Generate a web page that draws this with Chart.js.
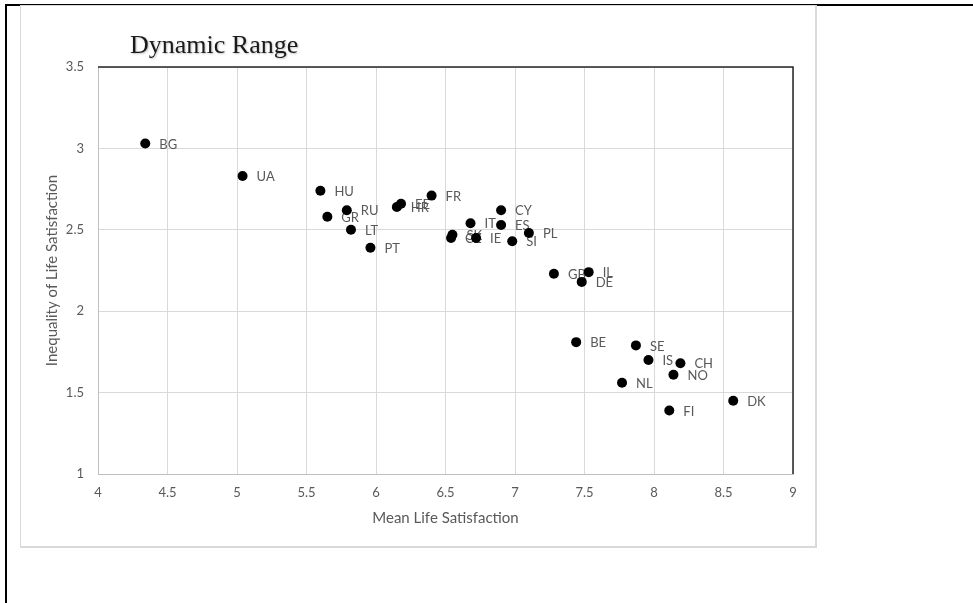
<!DOCTYPE html>
<html>
<head>
<meta charset="utf-8">
<script src="https://cdn.jsdelivr.net/npm/chart.js@4.4.1/dist/chart.umd.min.js"></script>
<style>
  html, body { margin: 0; padding: 0; background: #fff; }
  #outer { position: absolute; left: 5px; top: 4px; right: 0; bottom: 0; border-top: 2px solid #000; border-left: 2px solid #000; }
  #box { position: absolute; left: 20px; top: 5px; width: 794px; height: 540px; border: 1px solid #d9d9d9; border-right-width: 2px; border-bottom-width: 2px; background: #fff; }
  #box canvas { display: block; }
</style>
</head>
<body>
<div id="outer"></div>
<div id="box"><canvas id="myChart" width="794" height="540"></canvas></div>
<script>
// country codes and values
var countries = ["BG","UA","HU","RU","GR","LT","PT","HR","EE","FR","CY","IT","ES","SK","CZ","IE","SI","PL","GB","IL","DE","BE","SE","IS","CH","NO","NL","FI","DK"];
var meanLife = [4.34,5.04,5.60,5.79,5.65,5.82,5.96,6.15,6.18,6.40,6.90,6.68,6.90,6.55,6.54,6.72,6.98,7.10,7.28,7.53,7.48,7.44,7.87,7.96,8.19,8.14,7.77,8.11,8.57];
var inequality = [3.03,2.83,2.74,2.62,2.58,2.50,2.39,2.64,2.66,2.71,2.62,2.54,2.53,2.47,2.45,2.45,2.43,2.48,2.23,2.24,2.18,1.81,1.79,1.70,1.68,1.61,1.56,1.39,1.45];
var xTicks = [4,4.5,5,5.5,6,6.5,7,7.5,8,8.5,9];
var yTicks = [1,1.5,2,2.5,3,3.5];

var points = [];
for (var i = 0; i < countries.length; i++) {
  points.push({x: meanLife[i], y: inequality[i]});
}

var grey = "#595959";

// country labels next to each point (drawn before points)
var pointLabels = {
  id: 'pointLabels',
  beforeDatasetsDraw: function(chart) {
    var ctx = chart.ctx;
    var meta = chart.getDatasetMeta(0);
    ctx.save();
    ctx.font = "13px Lato";
    ctx.fillStyle = grey;
    ctx.textAlign = "left";
    ctx.textBaseline = "middle";
    meta.data.forEach(function(pt, i) {
      ctx.fillText(countries[i], pt.x + 14, pt.y + 1);
    });
    ctx.restore();
  }
};

// dark frame on top and right of plot area
var plotFrame = {
  id: 'plotFrame',
  beforeDatasetsDraw: function(chart) {
    var a = chart.chartArea, ctx = chart.ctx;
    ctx.save();
    ctx.strokeStyle = "#262626";
    ctx.lineWidth = 1.5;
    ctx.beginPath();
    ctx.moveTo(a.left, a.top);
    ctx.lineTo(a.right, a.top);
    ctx.lineTo(a.right, a.bottom);
    ctx.stroke();
    ctx.restore();
  }
};

var chartTitle = {
  id: 'chartTitle',
  afterDraw: function(chart) {
    var ctx = chart.ctx;
    ctx.save();
    ctx.font = "26px 'Liberation Serif'";
    ctx.fillStyle = "#1a1a1a";
    ctx.textAlign = "left";
    ctx.textBaseline = "alphabetic";
    ctx.shadowColor = "rgba(0,0,0,0.25)";
    ctx.shadowOffsetX = 1;
    ctx.shadowOffsetY = 1;
    ctx.shadowBlur = 2;
    ctx.fillText("Dynamic Range", chart.chartArea.left + 32, 47);
    ctx.restore();
  }
};

function plainTick(v) { return String(v); }

var ctx = document.getElementById("myChart");

var myChart = new Chart(ctx, {
  type: 'scatter',
  data: {
    datasets: [{
      label: "Countries",
      data: points,
      backgroundColor: "#000",
      borderColor: "#000",
      borderWidth: 0,
      pointRadius: 5,
      pointHoverRadius: 5
    }]
  },
  options: {
    responsive: false,
    animation: false,
    events: [],
    layout: { padding: { left: 0, right: 22, top: 61, bottom: 0 } },
    plugins: {
      legend: { display: false },
      tooltip: { enabled: false }
    },
    scales: {
      x: {
        type: 'linear',
        min: 4,
        max: 9,
        afterBuildTicks: function(s) { s.ticks = xTicks.map(function(v) { return {value: v}; }); },
        afterFit: function(s) { s.height = 72; },
        grid: { color: "#d9d9d9", lineWidth: 1, drawTicks: false },
        border: { color: "#bfbfbf", width: 1 },
        ticks: { color: grey, font: { family: "Lato", size: 13 }, padding: 11, callback: plainTick },
        title: { display: true, text: "Mean Life Satisfaction", color: grey, font: { family: "Lato", size: 15 }, padding: { top: 0, bottom: 19 } }
      },
      y: {
        type: 'linear',
        min: 1,
        max: 3.5,
        afterBuildTicks: function(s) { s.ticks = yTicks.map(function(v) { return {value: v}; }); },
        afterFit: function(s) { s.width = 77; },
        grid: { color: "#d9d9d9", lineWidth: 1, drawTicks: false },
        border: { color: "#bfbfbf", width: 1 },
        ticks: { color: grey, font: { family: "Lato", size: 13 }, padding: 14, callback: plainTick },
        title: { display: true, text: "Inequality of Life Satisfaction", color: grey, font: { family: "Lato", size: 15 }, padding: { top: 22, bottom: 0 } }
      }
    }
  },
  plugins: [pointLabels, plotFrame, chartTitle]
});
</script>
</body>
</html>
